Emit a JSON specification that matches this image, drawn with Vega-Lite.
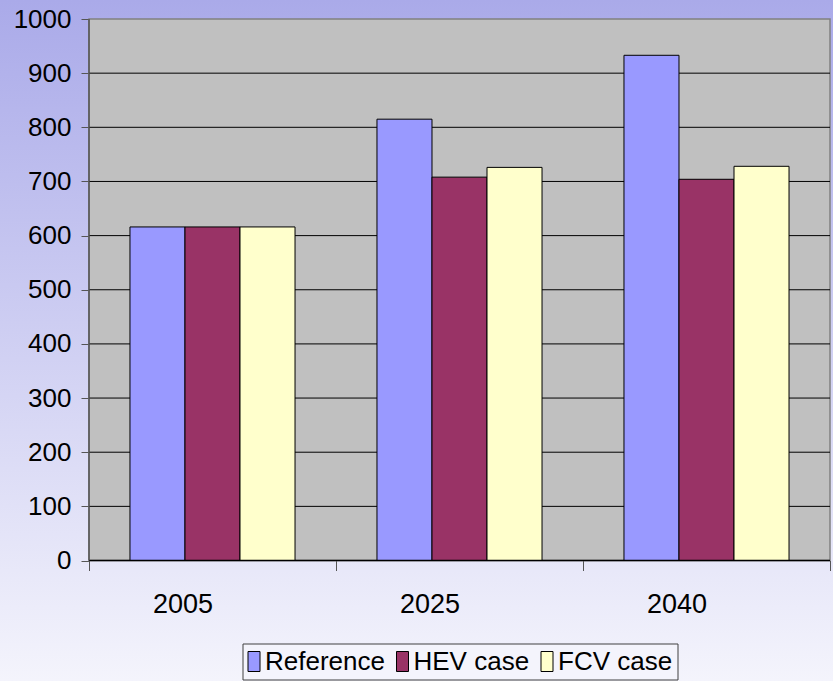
{
  "$schema": "https://vega.github.io/schema/vega-lite/v6.json",
  "width": 833,
  "height": 681,
  "padding": 0,
  "autosize": {"type": "none"},
  "config": {
    "view": {
      "stroke": null,
      "fill": {"gradient": "linear", "x1": 0, "y1": 0, "x2": 0, "y2": 1,
        "stops": [{"offset": 0, "color": "#aaaae9"}, {"offset": 1, "color": "#f4f4fc"}]}
    },
    "font": "Liberation Sans",
    "axis": {"grid": false, "domain": false, "labelFont": "Liberation Sans", "labelFontSize": 27, "labelColor": "black", "tickColor": "#555555", "tickWidth": 1},
    "legend": {"labelFont": "Liberation Sans", "labelFontSize": 26, "labelColor": "black"}
  },
  "datasets": {
    "bars": [
      {"year": "2005", "series": "Reference", "value": 616},
      {"year": "2005", "series": "HEV case", "value": 616},
      {"year": "2005", "series": "FCV case", "value": 616},
      {"year": "2025", "series": "Reference", "value": 815},
      {"year": "2025", "series": "HEV case", "value": 708},
      {"year": "2025", "series": "FCV case", "value": 726},
      {"year": "2040", "series": "Reference", "value": 933},
      {"year": "2040", "series": "HEV case", "value": 704},
      {"year": "2040", "series": "FCV case", "value": 728}
    ],
    "grid": [{"v": 100}, {"v": 200}, {"v": 300}, {"v": 400}, {"v": 500}, {"v": 600}, {"v": 700}, {"v": 800}, {"v": 900}],
    "one": [{"k": 1}]
  },
  "layer": [
    {
      "data": {"name": "one"},
      "mark": {"type": "rect", "fill": "#c0c0c0", "stroke": "#808080", "strokeWidth": 1.5},
      "encoding": {
        "x": {"datum": "2005", "bandPosition": 0},
        "x2": {"datum": "2040", "bandPosition": 1},
        "y": {"datum": 0},
        "y2": {"datum": 1000}
      }
    },
    {
      "data": {"name": "grid"},
      "mark": {"type": "rule", "color": "black", "strokeWidth": 1},
      "encoding": {
        "x": {"datum": "2005", "bandPosition": 0},
        "x2": {"datum": "2040", "bandPosition": 1},
        "y": {"field": "v", "type": "quantitative"}
      }
    },
    {
      "data": {"name": "bars"},
      "mark": {"type": "bar", "stroke": "black", "strokeWidth": 1},
      "encoding": {
        "x": {
          "field": "year", "type": "nominal",
          "scale": {"paddingInner": 0, "paddingOuter": 0.18623, "align": 0.9674},
          "axis": {"title": null, "labelAngle": 0, "orient": "bottom", "offset": -120.5, "tickBand": "extent", "tickSize": 10, "labelPadding": 34}
        },
        "xOffset": {
          "field": "series", "type": "nominal",
          "sort": ["Reference", "HEV case", "FCV case"],
          "scale": {"paddingInner": 0, "paddingOuter": 0.745}
        },
        "y": {
          "field": "value", "type": "quantitative",
          "scale": {"domain": [-222.5, 1035.1], "nice": false, "zero": false},
          "axis": {"title": null, "orient": "left", "offset": -89, "values": [0, 100, 200, 300, 400, 500, 600, 700, 800, 900, 1000], "format": "d", "labelFontSize": 26, "tickSize": 8, "labelPadding": 10}
        },
        "color": {
          "field": "series", "type": "nominal",
          "sort": ["Reference", "HEV case", "FCV case"],
          "scale": {"domain": ["Reference", "HEV case", "FCV case"], "range": ["#9999ff", "#993366", "#ffffcc"]},
          "legend": {
            "title": null, "orient": "none", "legendX": 242.5, "legendY": 643.5,
            "direction": "horizontal", "columns": 3,
            "strokeColor": "#404040", "fillColor": "#f4f4fc", "padding": 5,
            "symbolType": "M-0.6,-1H0.6V1H-0.6Z", "symbolSize": 400, "symbolOffset": -6.5,
            "symbolStrokeColor": "black", "symbolStrokeWidth": 1, "symbolOpacity": 1,
            "labelOffset": -2, "columnPadding": 8.5, "labelLimit": 400
          }
        }
      }
    },
    {
      "data": {"name": "one"},
      "mark": {"type": "rule", "color": "black", "strokeWidth": 1.5},
      "encoding": {
        "x": {"datum": "2005", "bandPosition": 0},
        "x2": {"datum": "2040", "bandPosition": 1},
        "y": {"datum": 0}
      }
    },
    {
      "data": {"name": "one"},
      "mark": {"type": "rule", "color": "#555555", "strokeWidth": 1.5},
      "encoding": {
        "x": {"datum": "2005", "bandPosition": 0},
        "y": {"datum": 0},
        "y2": {"datum": 1000}
      }
    }
  ]
}
